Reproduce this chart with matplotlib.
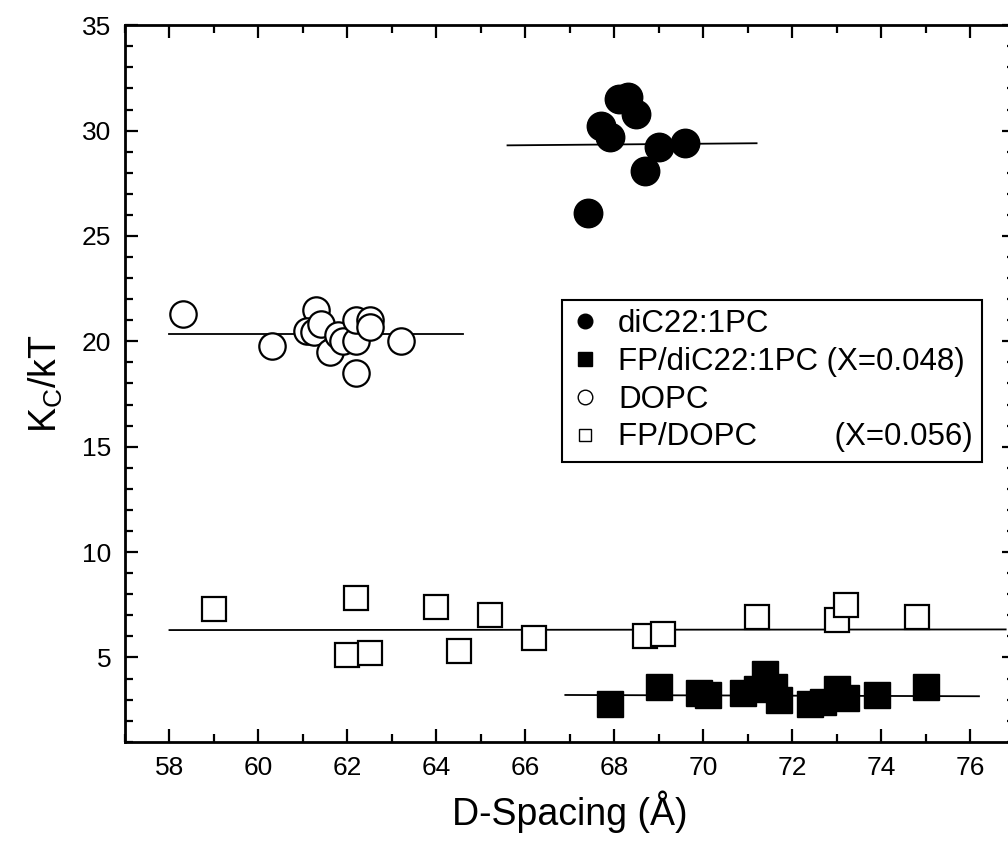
"""Bending modulus K_C/kT vs D-spacing for lipid bilayers with/without FP."""

import matplotlib
matplotlib.use("Agg")
import matplotlib.pyplot as plt
from matplotlib.lines import Line2D
from matplotlib.ticker import MultipleLocator

plt.rcParams['font.family'] = ['Liberation Sans', 'DejaVu Sans']
plt.rcParams['mathtext.default'] = 'regular'

# diC22:1PC (filled circles)
dic22_x = [67.4, 67.7, 67.9, 68.1, 68.3, 68.5, 68.7, 69.0, 69.6]
dic22_y = [26.1, 30.2, 29.7, 31.5, 31.6, 30.8, 28.1, 29.2, 29.4]
dic22_fit_x = [65.6, 71.2]
dic22_fit_y = [29.3, 29.4]

# FP/diC22:1PC (filled squares)
fp_dic22_x = [67.9, 69.0, 69.9, 70.1, 70.9, 71.2, 71.4, 71.6, 71.7,
              72.4, 72.7, 73.0, 73.2, 73.9, 75.0]
fp_dic22_y = [2.8, 3.6, 3.3, 3.2, 3.3, 3.5, 4.2, 3.6, 3.0,
              2.8, 2.9, 3.5, 3.1, 3.2, 3.6]
fp_dic22_fit_x = [66.9, 76.2]
fp_dic22_fit_y = [3.22, 3.16]

# DOPC (open circles)
dopc_x = [58.3, 60.3, 61.3, 61.1, 61.25, 61.4, 61.6, 61.8, 61.9,
          62.2, 62.2, 62.5, 62.5, 62.2, 63.2]
dopc_y = [21.3, 19.8, 21.5, 20.5, 20.45, 20.8, 19.5, 20.3, 20.0,
          20.0, 21.0, 21.0, 20.7, 18.5, 20.0]
dopc_fit_x = [58.0, 64.6]
dopc_fit_y = [20.35, 20.35]

# FP/DOPC (open squares)
fp_dopc_x = [59.0, 62.2, 62.0, 62.5, 64.0, 64.5, 65.2, 66.2,
             68.7, 69.1, 71.2, 73.0, 73.2, 74.8]
fp_dopc_y = [7.3, 7.8, 5.1, 5.2, 7.4, 5.3, 7.0, 5.9,
             6.0, 6.1, 6.9, 6.8, 7.5, 6.9]
fp_dopc_fit_x = [58.0, 76.8]
fp_dopc_fit_y = [6.30, 6.33]

labels = ['diC22:1PC', 'FP/diC22:1PC (X=0.048)', 'DOPC',
          'FP/DOPC         (X=0.056)']

fig = plt.figure(figsize=(10.08, 8.41), dpi=100)
ax = fig.add_axes([0.124, 0.118, 0.8825, 0.852])

# fit lines
for fx, fy in [(dic22_fit_x, dic22_fit_y), (fp_dic22_fit_x, fp_dic22_fit_y),
               (dopc_fit_x, dopc_fit_y), (fp_dopc_fit_x, fp_dopc_fit_y)]:
    ax.plot(fx, fy, color='black', lw=1.3, zorder=1)

# data points
ax.plot(fp_dopc_x, fp_dopc_y, 's', ms=17.5, mfc='white', mec='black',
        mew=1.6, ls='none', zorder=2)
ax.plot(fp_dic22_x, fp_dic22_y, 's', ms=18.5, color='black', ls='none', zorder=2)
ax.plot(dopc_x, dopc_y, 'o', ms=19, mfc='white', mec='black',
        mew=1.6, ls='none', zorder=2)
ax.plot(dic22_x, dic22_y, 'o', ms=20.5, color='black', ls='none', zorder=2)

# axes styling
ax.set_xlim(57, 77)
ax.set_ylim(1, 35)
ax.xaxis.set_major_locator(MultipleLocator(2))
ax.xaxis.set_minor_locator(MultipleLocator(1))
ax.yaxis.set_major_locator(MultipleLocator(5))
ax.yaxis.set_minor_locator(MultipleLocator(1))
ax.tick_params(which='both', direction='in', top=True, right=True,
               width=1.6, labelsize=19, pad=10)
ax.tick_params(which='major', length=9.5)
ax.tick_params(which='minor', length=5.5)
for sp in ax.spines.values():
    sp.set_linewidth(2)

ax.set_xlabel('D-Spacing (Å)', fontsize=27, labelpad=8)
ax.set_ylabel('K$_C$/kT', fontsize=27, labelpad=12)

# legend
handles = [
    Line2D([], [], marker='o', ms=10.5, color='black', ls='none'),
    Line2D([], [], marker='s', ms=9.5, color='black', ls='none'),
    Line2D([], [], marker='o', ms=10.5, mfc='white', mec='black', mew=1, ls='none'),
    Line2D([], [], marker='s', ms=9, mfc='white', mec='black', mew=1, ls='none'),
]
leg = ax.legend(handles, labels, loc='upper left', bbox_to_anchor=(0.491, 0.617),
                borderaxespad=0, fontsize=22.5, frameon=True, fancybox=False,
                handlelength=0.9, handletextpad=0.6, labelspacing=0.25,
                borderpad=0.3)
leg.get_frame().set_edgecolor('black')
leg.get_frame().set_linewidth(1.5)
leg.get_frame().set_alpha(1)

fig.savefig('out.png', dpi=100)
